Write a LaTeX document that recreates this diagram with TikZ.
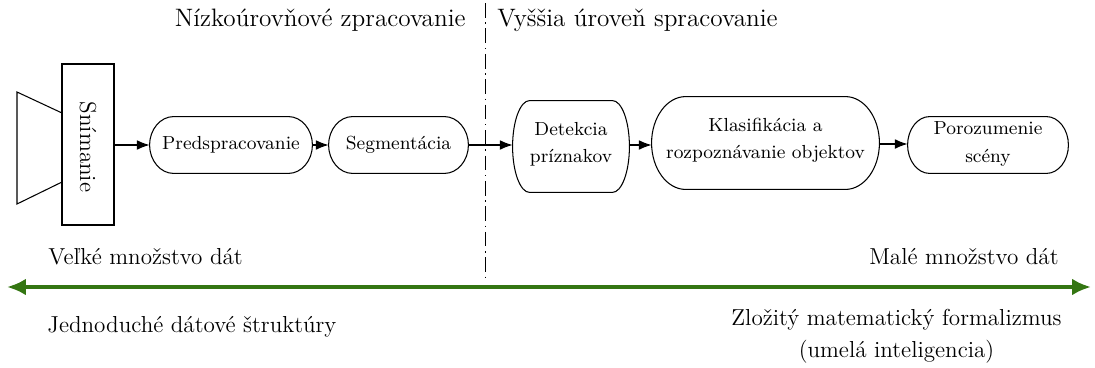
\documentclass[tikz,border=0pt]{standalone}
\usetikzlibrary{arrows.meta,calc}
\definecolor{arrgreen}{RGB}{52,118,18}
\newcommand{\ellbox}[3]{%
  \draw[line width=0.5pt] ($(#1.north east)+(-#2,0)$)
    .. controls ($(#1.north east)+(-0.4477*#2,0)$) and ($(#1.east)+(0,-0.5523*#3)$) .. (#1.east)
    .. controls ($(#1.east)+(0,0.5523*#3)$) and ($(#1.south east)+(-0.4477*#2,0)$) .. ($(#1.south east)+(-#2,0)$)
    -- ($(#1.south west)+(#2,0)$)
    .. controls ($(#1.south west)+(0.4477*#2,0)$) and ($(#1.west)+(0,0.5523*#3)$) .. (#1.west)
    .. controls ($(#1.west)+(0,-0.5523*#3)$) and ($(#1.north west)+(0.4477*#2,0)$) .. ($(#1.north west)+(#2,0)$)
    -- cycle;}
\begin{document}
\begin{tikzpicture}[x=0.476pt,y=-0.476pt,
  box/.style={rectangle,inner sep=0pt,align=center,font=\fontsize{9}{13}\selectfont},
  btext/.style={inner sep=0pt,align=center,font=\fontsize{9}{13}\selectfont},
  flow/.style={-{Latex[length=6pt,width=4.6pt]},line width=0.5pt},
  lbl/.style={font=\fontsize{12}{16}\selectfont,inner sep=0pt,align=center},
  slbl/.style={font=\fontsize{11}{15.2}\selectfont,inner sep=0pt,align=center}]
\useasboundingbox (0,0) rectangle (1095,367);
% sensor
\node[draw,line width=0.5pt,minimum width=52*0.476pt,minimum height=161*0.476pt,inner sep=0pt] (sn) at (88,144.5) {};
\node[rotate=-90,font=\fontsize{11}{13}\selectfont] (snt) at (88,147) {Snímanie};
\coordinate (t1) at (62,113);
\coordinate (t2) at (17,92);
\coordinate (t3) at (17,204);
\coordinate (t4) at (62,182);
\draw[line width=0.5pt] (t1) -- (t2) -- (t3) -- (t4);
% boxes
\node[box,minimum width=162*0.476pt,minimum height=56*0.476pt] (pre) at (231,145) {Predspracovanie};
\ellbox{pre}{24}{28}
\node[box,minimum width=139*0.476pt,minimum height=56*0.476pt] (seg) at (398.5,145) {Segmentácia};
\ellbox{seg}{24}{28}
\node[box,minimum width=116*0.476pt,minimum height=91*0.476pt] (det) at (571,146.5) {};
\ellbox{det}{17}{45.5}
\node[btext] (dett) at (571,144) {Detekcia\\príznakov};
\node[box,minimum width=227*0.476pt,minimum height=92*0.476pt] (kla) at (765.5,143) {};
\ellbox{kla}{34}{46}
\node[btext] (klat) at (765.5,140) {Klasifikácia a\\rozpoznávanie objektov};
\node[box,minimum width=160*0.476pt,minimum height=56*0.476pt] (por) at (988,145) {};
\ellbox{por}{22}{28}
\node[btext] (port) at (988,144) {Porozumenie\\scény};
% flow
\draw[flow] (sn.east |- pre) -- (pre);
\draw[flow] (pre) -- (seg);
\draw[flow] (seg.east) -- (seg.east -| det.west);
\draw[flow] (det.east |- 0,145) -- (kla.west |- 0,145);
\draw[flow] (kla.east |- 0,144) -- (por.west |- 0,144);
% divider
\coordinate (d1) at (485,3);
\coordinate (d2) at (485,278);
\draw[line width=0.45pt,dash pattern=on 7pt off 2.2pt on 0.7pt off 2.2pt] (d1) -- (d2);
% labels
\node[lbl,anchor=east] (low) at (466,20) {Nízkoúrovňové zpracovanie};
\node[lbl,anchor=west] (high) at (497,20) {Vyššia úroveň spracovanie};
\node[slbl,anchor=west] (big) at (48,257) {Veľké množstvo dát};
\node[slbl,anchor=east] (small) at (1059,257) {Malé množstvo dát};
\node[slbl,anchor=west] (simple) at (47,327) {Jednoduché dátové štruktúry};
\node[slbl,anchor=east] (complex) at (1062,336) {Zložitý matematický formalizmus\\(umelá inteligencia)};
% green axis
\coordinate (g1) at (7,287);
\coordinate (g2) at (1091,287);
\draw[arrgreen,line width=2pt,{Latex[length=9pt,width=8pt]}-{Latex[length=9pt,width=8pt]}] (g1) -- (g2);
\end{tikzpicture}
\end{document}
